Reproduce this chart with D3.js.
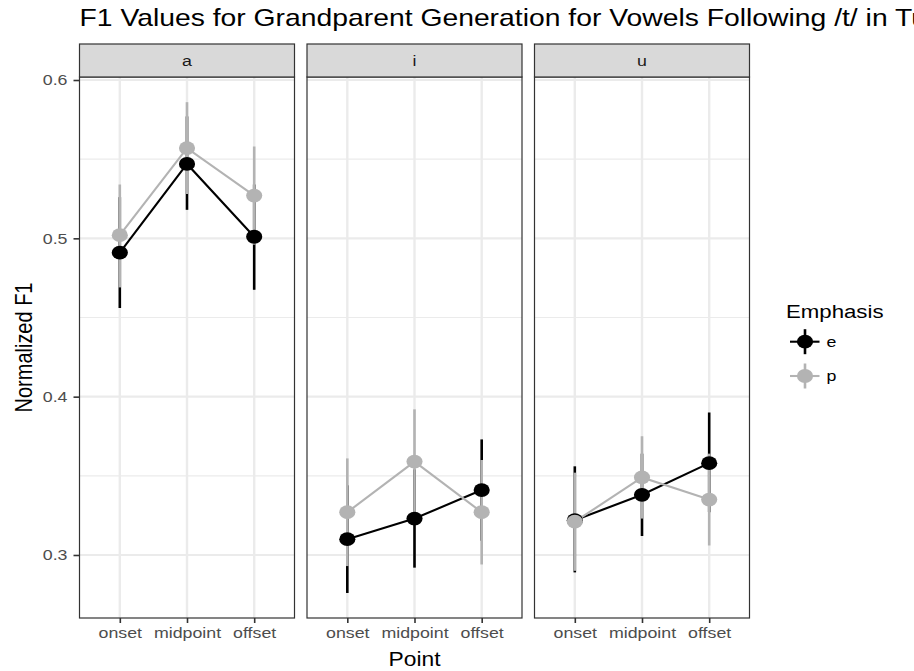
<!DOCTYPE html>
<html>
<head>
<meta charset="utf-8">
<script src="https://cdn.jsdelivr.net/npm/d3@7"></script>
<style>
  html, body { margin: 0; padding: 0; background: #fff; }
  svg { display: block; }
  text { font-family: "Liberation Sans", Arial, Helvetica, sans-serif; }
</style>
</head>
<body>
<svg id="chart" width="914" height="671"></svg>
<script>
// Facets, x categories and groups
const vowels = ["a", "i", "u"];
const points = ["onset", "midpoint", "offset"];
const emphasis = ["e", "p"];

// Mean normalized F1 per vowel (rows) and point (columns)
const meanE  = [[0.491, 0.547, 0.501], [0.310, 0.323, 0.341], [0.322, 0.338, 0.358]];
const lowerE = [[0.456, 0.518, 0.4675], [0.276, 0.292, 0.309], [0.289, 0.312, 0.327]];
const upperE = [[0.526, 0.577, 0.534], [0.344, 0.354, 0.373], [0.356, 0.364, 0.390]];

const meanP  = [[0.502, 0.557, 0.527], [0.327, 0.359, 0.327], [0.321, 0.349, 0.335]];
const lowerP = [[0.469, 0.528, 0.496], [0.293, 0.326, 0.294], [0.290, 0.323, 0.306]];
const upperP = [[0.534, 0.586, 0.558], [0.361, 0.392, 0.360], [0.352, 0.375, 0.364]];

// Axis ticks
const yTicks = [0.3, 0.4, 0.5, 0.6];
const yMinor = [0.35, 0.45, 0.55];

const titleText = "F1 Values for Grandparent Generation for Vowels Following /t/ in Tunisian Arabic";
const xTitle = "Point";
const yTitle = "Normalized F1";
const legendTitle = "Emphasis";

const colors = { e: "#000000", p: "#b3b3b3" };
const SX = 1.17; // horizontal text/point aspect

const series = {
  e: { mean: meanE, lower: lowerE, upper: upperE },
  p: { mean: meanP, lower: lowerP, upper: upperP }
};

const svg = d3.select("#chart");
svg.append("rect").attr("width", 914).attr("height", 671).attr("fill", "#fff");

// Layout
const plotTop = 77, plotBottom = 618, stripTop = 44;
const facet = d3.scaleBand().domain(vowels).range([79.5, 749.5])
  .paddingInner(12.5 / 227.5).paddingOuter(0);
const pw = facet.bandwidth();
const y = d3.scaleLinear().domain([0.2602, 0.6019]).range([plotBottom, plotTop]);
const x = d3.scalePoint().domain(points).range([0, pw]).padding(0.6);

function stretched(sel, tx, ty, rot) {
  sel.attr("transform", `translate(${tx},${ty}) scale(${SX},1)` + (rot ? ` rotate(${rot})` : ""));
  return sel;
}

// Title
stretched(svg.append("text"), 79.5, 26)
  .attr("font-size", 24.2).attr("fill", "#000").text(titleText);

vowels.forEach((v, vi) => {
  const g = svg.append("g").attr("transform", `translate(${facet(v)},0)`);

  g.append("rect").attr("x", 0).attr("y", plotTop).attr("width", pw)
    .attr("height", plotBottom - plotTop).attr("fill", "#fff");

  // grid
  g.selectAll(".minor").data(yMinor).join("line")
    .attr("x1", 0).attr("x2", pw).attr("y1", d => y(d)).attr("y2", d => y(d))
    .attr("stroke", "#ebebeb").attr("stroke-width", 1.2);
  g.selectAll(".majorY").data(yTicks).join("line")
    .attr("x1", 0).attr("x2", pw).attr("y1", d => y(d)).attr("y2", d => y(d))
    .attr("stroke", "#ebebeb").attr("stroke-width", 2.2);
  g.selectAll(".majorX").data(points).join("line")
    .attr("x1", d => x(d)).attr("x2", d => x(d)).attr("y1", plotTop).attr("y2", plotBottom)
    .attr("stroke", "#ebebeb").attr("stroke-width", 2.4);

  // connecting lines
  const line = d3.line().x((d, i) => x(points[i])).y(d => y(d));
  emphasis.forEach(k => {
    g.append("path").datum(series[k].mean[vi]).attr("d", line)
      .attr("fill", "none").attr("stroke", colors[k]).attr("stroke-width", 2.1);
  });

  // ranges
  emphasis.forEach(k => {
    g.selectAll(null).data(points).join("line")
      .attr("x1", d => x(d)).attr("x2", d => x(d))
      .attr("y1", (d, i) => y(series[k].lower[vi][i]))
      .attr("y2", (d, i) => y(series[k].upper[vi][i]))
      .attr("stroke", colors[k]).attr("stroke-width", 2.6);
  });

  // points
  emphasis.forEach(k => {
    g.selectAll(null).data(points).join("ellipse")
      .attr("cx", d => x(d)).attr("cy", (d, i) => y(series[k].mean[vi][i]))
      .attr("rx", 6.9 * SX).attr("ry", 6.9)
      .attr("fill", colors[k]);
  });

  // panel border
  g.append("rect").attr("x", 0).attr("y", plotTop).attr("width", pw)
    .attr("height", plotBottom - plotTop).attr("fill", "none")
    .attr("stroke", "#333").attr("stroke-width", 1.2);

  // strip
  g.append("rect").attr("x", 0).attr("y", stripTop).attr("width", pw)
    .attr("height", plotTop - stripTop).attr("fill", "#d9d9d9")
    .attr("stroke", "#333").attr("stroke-width", 1.2);
  stretched(g.append("text"), pw / 2, (stripTop + plotTop) / 2)
    .attr("text-anchor", "middle").attr("dy", "0.35em")
    .attr("font-size", 15.2).attr("fill", "#1a1a1a").text(v);

  // x axis
  const xa = g.append("g").attr("transform", `translate(0,${plotBottom})`)
    .call(d3.axisBottom(x).tickSize(5).tickPadding(4));
  xa.select(".domain").remove();
  xa.selectAll(".tick line").attr("stroke", "#333").attr("stroke-width", 1.6);
  xa.selectAll(".tick text").attr("font-size", 15.2).attr("fill", "#4d4d4d")
    .attr("font-family", null).attr("transform", `scale(${SX},1)`);
});

// y axis
const ya = svg.append("g").attr("transform", `translate(${facet("a")},0)`)
  .call(d3.axisLeft(y).tickValues(yTicks).tickFormat(d3.format(".1f")).tickSize(6).tickPadding(6));
ya.select(".domain").remove();
ya.selectAll(".tick line").attr("stroke", "#333").attr("stroke-width", 1.6);
ya.selectAll(".tick text").each(function () {
  const t = d3.select(this);
  t.attr("x", +t.attr("x") / SX).attr("transform", `scale(${SX},1)`)
    .attr("font-size", 15.2).attr("fill", "#4d4d4d").attr("font-family", null);
});

// axis titles
stretched(svg.append("text"), (facet("a") + facet("u") + pw) / 2, 666)
  .attr("text-anchor", "middle").attr("font-size", 19.5).attr("fill", "#000").text(xTitle);
stretched(svg.append("text"), 31.5, (plotTop + plotBottom) / 2, -90)
  .attr("text-anchor", "middle").attr("font-size", 20).attr("fill", "#000").text(yTitle);

// legend
const lg = svg.append("g");
stretched(lg.append("text"), 786, 318.3)
  .attr("font-size", 19).attr("fill", "#000").text(legendTitle);
const keyY = d3.scalePoint().domain(emphasis).range([341.7, 376]);
emphasis.forEach(k => {
  const cy = keyY(k), cx = 805;
  lg.append("line").attr("x1", cx - 15).attr("x2", cx + 14.5).attr("y1", cy).attr("y2", cy)
    .attr("stroke", colors[k]).attr("stroke-width", 2.1);
  lg.append("line").attr("x1", cx).attr("x2", cx).attr("y1", cy - 12.5).attr("y2", cy + 12.5)
    .attr("stroke", colors[k]).attr("stroke-width", 2.6);
  lg.append("ellipse").attr("cx", cx).attr("cy", cy).attr("rx", 6.9 * SX).attr("ry", 6.9)
    .attr("fill", colors[k]);
  stretched(lg.append("text"), 826.5, cy)
    .attr("dy", "0.35em").attr("font-size", 15.2).attr("fill", "#000").text(k);
});
</script>
</body>
</html>
